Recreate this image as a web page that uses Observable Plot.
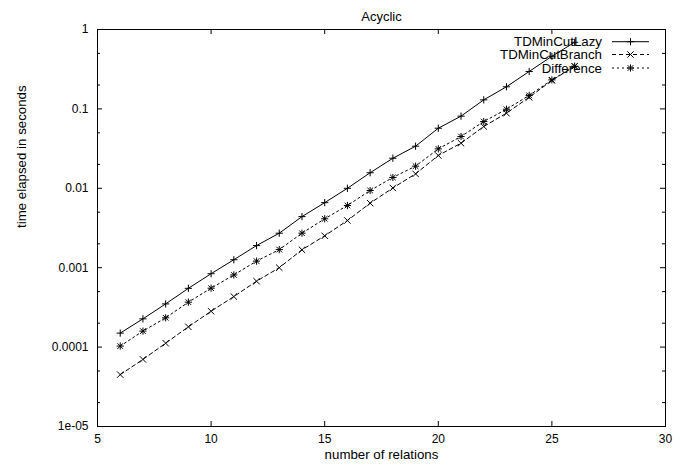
<!DOCTYPE html>
<html><head><meta charset="utf-8">
<script src="https://cdn.jsdelivr.net/npm/d3@7"></script>
<script src="https://cdn.jsdelivr.net/npm/@observablehq/plot@0.6"></script>
<style>body{margin:0;background:#fff}</style>
</head><body><div id="chart"></div>
<script>
const relations = [6,7,8,9,10,11,12,13,14,15,16,17,18,19,20,21,22,23,24,25,26];
const lazy = [1.5e-4,2.27e-4,3.5e-4,5.5e-4,8.4e-4,1.26e-3,1.9e-3,2.72e-3,4.4e-3,6.6e-3,1.0e-2,0.0157,0.0239,0.0339,0.0571,0.081,0.13,0.19,0.296,0.46,0.69];
const branch = [4.5e-5,7.0e-5,1.12e-4,1.8e-4,2.83e-4,4.33e-4,6.76e-4,1.0e-3,1.68e-3,2.52e-3,3.93e-3,6.5e-3,0.0101,0.0152,0.0259,0.037,0.060,0.0883,0.140,0.228,0.345];
const difference = [1.03e-4,1.59e-4,2.34e-4,3.68e-4,5.52e-4,8.1e-4,1.21e-3,1.69e-3,2.72e-3,4.13e-3,6.07e-3,9.38e-3,0.0137,0.019,0.0314,0.0449,0.0693,0.099,0.148,0.232,0.345];
const seriesNames = ["TDMinCutLazy","TDMinCutBranch","Difference"];
const xTicks = [5,10,15,20,25,30];
const yTicks = [1e-5,1e-4,1e-3,1e-2,1e-1,1];
const yTickLabels = ["1e-05","0.0001","0.001","0.01","0.1","1"];
const yMinorTicks = [2e-5,5e-5,2e-4,5e-4,2e-3,5e-3,2e-2,5e-2,0.2,0.5];
const title = "Acyclic";
const xLabel = "number of relations";
const yLabel = "time elapsed in seconds";

const W = 689, H = 472, mL = 97, mR = 24, mT = 29, mB = 46;
const plotW = W - mL - mR, plotH = H - mT - mB;
const FONT = "'Liberation Sans', Arial, Helvetica, sans-serif";

const plusSym = {draw(ctx, size){const r=Math.sqrt(size/Math.PI);ctx.moveTo(-r,0);ctx.lineTo(r,0);ctx.moveTo(0,-r);ctx.lineTo(0,r);}};
const timesSym = {draw(ctx, size){const r=Math.sqrt(size/Math.PI);ctx.moveTo(-r,-r);ctx.lineTo(r,r);ctx.moveTo(-r,r);ctx.lineTo(r,-r);}};

const rows = (vals) => relations.map((r,i)=>({r, v: vals[i]}));
const lazyRows = rows(lazy), branchRows = rows(branch), diffRows = rows(difference);

const styles = [
  {dash: null, syms: [[plusSym,3.6]]},
  {dash: "4,3", syms: [[timesSym,3.2]]},
  {dash: "2,3", syms: [[plusSym,3.6],[timesSym,2.8]]}
];
const allRows = [lazyRows, branchRows, diffRows];

function legend(index, scales, values, dims) {
  const g = d3.create("svg:g").attr("font-family", FONT).attr("font-size", 13.3);
  const right = dims.width - dims.marginRight;
  const top = dims.marginTop;
  const rowY = [12.7, 25.5, 39];
  seriesNames.forEach((name, i) => {
    const y = top + rowY[i];
    g.append("text").attr("x", right - 63).attr("y", y).attr("dy", "0.35em")
      .attr("text-anchor", "end").attr("fill", "black").text(name);
    const ln = g.append("line").attr("x1", right - 53).attr("x2", right - 16)
      .attr("y1", y).attr("y2", y).attr("stroke", "black").attr("stroke-width", 1);
    if (styles[i].dash) ln.attr("stroke-dasharray", styles[i].dash);
    const cx = right - 34.5;
    styles[i].syms.forEach(([sym, r]) => {
      g.append("path").attr("transform", `translate(${cx},${y})`)
        .attr("d", d3.symbol(sym, Math.PI*r*r)()).attr("stroke", "black").attr("fill", "none");
    });
  });
  return g.node();
}

const marks = [
  Plot.frame({stroke: "black"}),
  Plot.tickX(xTicks, {x: d=>d, insetTop: plotH - 5, stroke: "black"}),
  Plot.tickX(xTicks, {x: d=>d, insetBottom: plotH - 5, stroke: "black"}),
  Plot.tickY(yTicks, {y: d=>d, insetRight: plotW - 5, stroke: "black"}),
  Plot.tickY(yTicks, {y: d=>d, insetLeft: plotW - 5, stroke: "black"}),
  Plot.tickY(yMinorTicks, {y: d=>d, insetRight: plotW - 3, stroke: "black"}),
  Plot.tickY(yMinorTicks, {y: d=>d, insetLeft: plotW - 3, stroke: "black"}),
  Plot.axisX(xTicks, {tickSize: 0, tickPadding: 8, fontSize: 12, label: null, tickFormat: d=>String(d)}),
  Plot.axisY(yTicks, {tickSize: 0, tickPadding: 9, fontSize: 12, label: null, tickFormat: d=>yTickLabels[yTicks.indexOf(d)]}),
  Plot.text([title], {frameAnchor: "top", dy: -18, fontSize: 13, fill: "black"}),
  Plot.text([xLabel], {frameAnchor: "bottom", dy: 32, fontSize: 13.3, fill: "black"}),
  Plot.text([yLabel], {frameAnchor: "left", dx: -76, rotate: -90, fontSize: 13.3, fill: "black"})
];
allRows.forEach((data, i) => {
  marks.push(Plot.line(data, {x: "r", y: "v", stroke: "black", strokeWidth: 1, strokeDasharray: styles[i].dash}));
  styles[i].syms.forEach(([sym, r]) => {
    marks.push(Plot.dot(data, {x: "r", y: "v", symbol: sym, r, stroke: "black", fill: "none", strokeWidth: 1}));
  });
});
marks.push(legend);

const chart = Plot.plot({
  width: W, height: H,
  marginLeft: mL, marginRight: mR, marginTop: mT, marginBottom: mB,
  style: {fontFamily: FONT, fontSize: "12px", background: "white", color: "black"},
  x: {domain: [5, 30]},
  y: {type: "log", domain: [1e-5, 1]},
  marks
});
document.getElementById("chart").appendChild(chart);
</script>
</body></html>
